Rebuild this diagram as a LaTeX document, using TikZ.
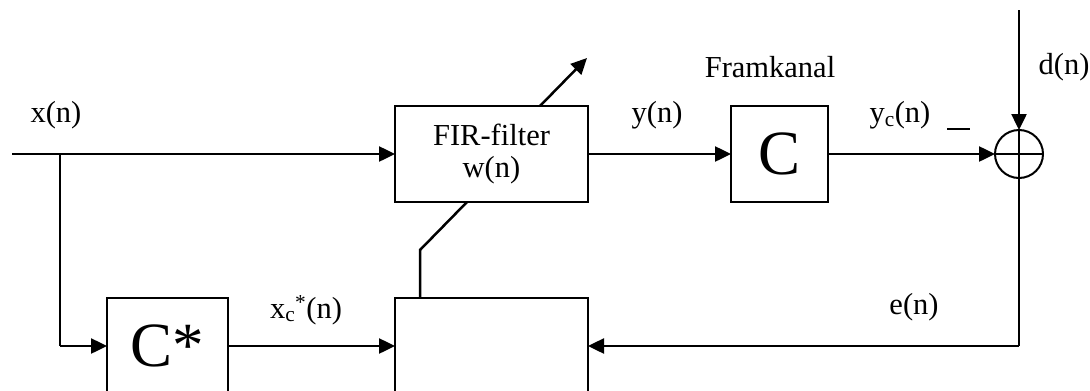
\documentclass[tikz,border=0pt]{standalone}
\usepackage{fontspec}
\setmainfont{Liberation Serif}
\usetikzlibrary{arrows.meta,calc}
\begin{document}
\begin{tikzpicture}[x=1pt,y=-1pt,
  lbl/.style={font=\fontsize{30.5}{33}\selectfont, inner sep=0pt},
  blk/.style={draw, line width=2pt, inner sep=0pt, outer sep=0pt, minimum height=96pt},
  bigC/.style={font=\fontsize{63}{63}\selectfont},
  wire/.style={line width=2.5pt},
  thinwire/.style={line width=1.3pt},
  arr/.style={wire, -{Triangle[length=16pt,width=15pt]}}
  ]
\useasboundingbox (0,0) rectangle (1090,391);
\clip (0,0) rectangle (1090,391);
% blocks
\node[blk, minimum width=193pt, lbl, align=center] (fir) at (491.5,154) {FIR-filter\\[-1pt]w(n)};
\node[blk, minimum width=97pt, bigC] (c) at (779.5,154) {C};
\node[draw, line width=2pt, circle, minimum size=48pt, inner sep=0pt, outer sep=0pt] (sum) at (1019,154) {};
\node[blk, minimum width=121pt, bigC] (cs) at (167.5,346) {C*};
\node[blk, minimum width=193pt] (upd) at (491.5,346) {};
% labels
\node[lbl] (xn) at (56,115) {x(n)};
\node[lbl] (yn) at (657,115) {y(n)};
\node[lbl] (ycn) at (900,115) {y\textsubscript{c}(n)};
\node[lbl] (fk) at (770,67) {Framkanal};
\node[lbl] (dn) at (1064,67) {d(n)};
\node[lbl] (en) at (914,307) {e(n)};
\node[lbl] (xcn) at (306,310) {x\textsubscript{c}\textsuperscript{*}(n)};
\node[inner sep=0pt] (minus) at (958.5,129) {\rule{23pt}{1.6pt}};
% coordinates
\coordinate (in) at (12,154);
\coordinate (thk) at (180,154);
\coordinate (br) at (60,154);
\coordinate (brd) at (60,346);
\coordinate (dtop) at (1019,10);
\coordinate (ecorner) at (1019,346);
\coordinate (tip) at (587,58);
% connectors
\draw[thinwire] (in) -- (thk);
\draw[arr] (thk) -- (fir.west);
\draw[wire] (br) -- (brd);
\draw[arr] (brd) -- (cs.west);
\draw[arr] (cs.east) -- (upd.west);
\draw[arr] (fir.east) -- (c.west);
\draw[arr] (c.east) -- (sum.west);
\draw[arr] (dtop) -- (sum.north);
\draw[line width=1.6pt] (sum.west) -- (sum.east) (sum.north) -- (sum.south);
\draw[wire] (sum.south) -- (ecorner);
\draw[arr] (ecorner) -- (upd.east);
\draw[arr] ([xshift=145pt]fir.north west) -- (tip);
\draw[wire] ([xshift=25pt]upd.north west) -- ++(0,-48) -- ([xshift=72pt]fir.south west);
\end{tikzpicture}
\end{document}
